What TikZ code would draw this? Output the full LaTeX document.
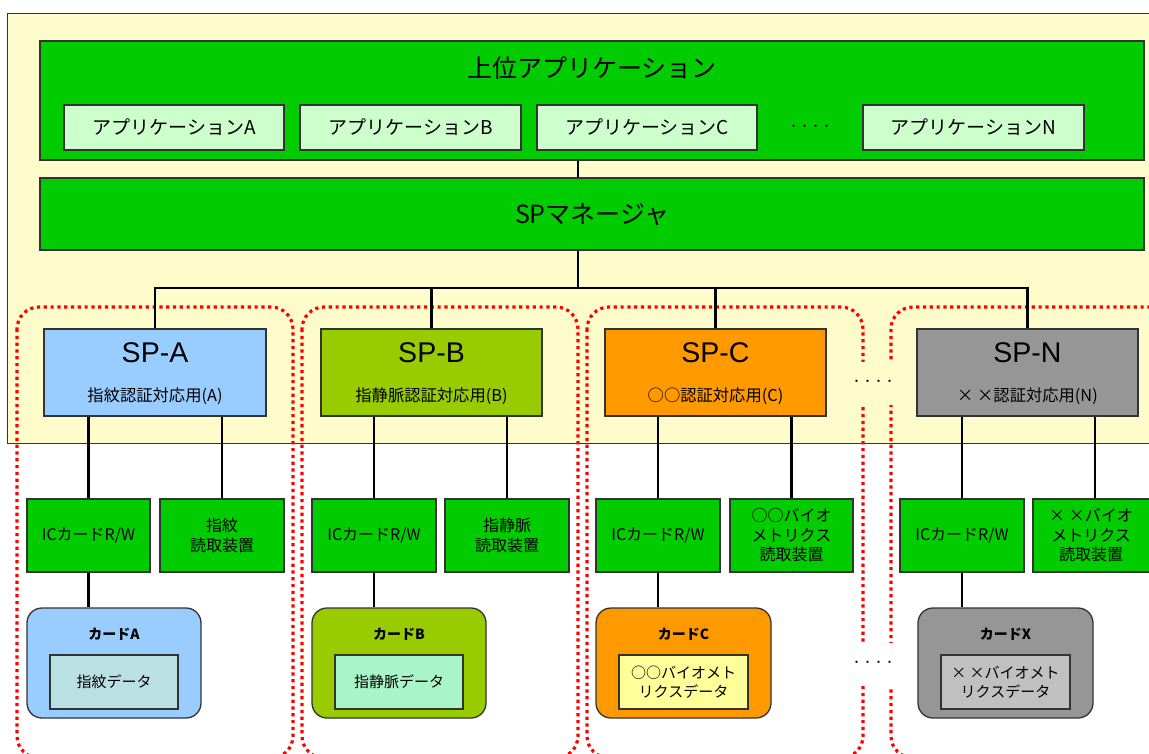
\documentclass[tikz,border=0pt]{standalone}
\usepackage{fontspec}
\setmainfont{Noto Sans CJK JP}
\newfontfamily\latinfont{Liberation Sans}

\definecolor{bgYellow}{RGB}{255,252,204}
\definecolor{boxGreen}{RGB}{0,204,0}
\definecolor{appGreen}{RGB}{204,255,204}
\definecolor{colA}{RGB}{153,204,255}
\definecolor{colB}{RGB}{153,204,0}
\definecolor{colC}{RGB}{255,153,0}
\definecolor{colN}{RGB}{150,150,150}
\definecolor{dataA}{RGB}{187,224,227}
\definecolor{dataB}{RGB}{170,245,200}
\definecolor{dataC}{RGB}{255,255,153}
\definecolor{dataN}{RGB}{192,192,192}
\definecolor{zoneRed}{RGB}{255,0,0}

% box given by its corners: style, name, x1, y1, x2, y2, text
\newcommand\rbox[7]{\node[#1,minimum width={(#5-#3)*1pt},minimum height={(#6-#4)*1pt}] (#2) at ({(#3+#5)/2},{(#4+#6)/2}) {#7};}

\tikzset{
  frame/.style={draw=black!80, line width=1.1pt, inner sep=0pt, align=center},
  greenbox/.style={frame, fill=boxGreen},
  appbox/.style={frame, fill=appGreen, font=\fontsize{19}{22}\selectfont},
  spbox/.style={frame},
  devbox/.style={frame, fill=boxGreen, font=\fontsize{16}{19.5}\selectfont},
  cardbox/.style={frame, line width=1.3pt, rounded corners=15pt},
  databox/.style={frame, line width=1.2pt, font=\fontsize{15}{19}\selectfont},
  conn/.style={draw=black, line width=2.4pt},
  zone/.style={draw=zoneRed, line width=3.2pt, dash pattern=on 3.2pt off 3.6pt, rounded corners=22pt},
  bigtitle/.style={font=\fontsize{25}{28}\selectfont, inner sep=0pt},
  sptitle/.style={font=\latinfont\fontsize{28.5}{31}\selectfont, inner sep=0pt},
  spsub/.style={font=\fontsize{16.3}{18}\selectfont, inner sep=0pt},
  cardtitle/.style={font=\bfseries\fontsize{14}{16}\selectfont, inner sep=0pt},
  ellipsis/.style={font=\fontsize{11}{12}\selectfont, inner sep=0pt, minimum width=48pt, minimum height=43pt},
}

\begin{document}
\begin{tikzpicture}[x=1pt,y=-1pt]
\useasboundingbox (0,0) rectangle (1149,753);

% platform area
\draw[fill=bgYellow, draw=black!80, line width=1pt] (1165,13) -- (7,13) -- (7,443) -- (1165,443);

% upper application layer
\rbox{greenbox}{upper}{40}{41}{1144}{160}{}
\node[bigtitle] (uptitle) at (592,68) {上位アプリケーション};
\rbox{appbox}{appA}{64}{105}{284}{150}{アプリケーションA}
\rbox{appbox}{appB}{300}{105}{521}{150}{アプリケーションB}
\rbox{appbox}{appC}{537}{105}{757}{150}{アプリケーションC}
\node[font=\fontsize{11}{12}\selectfont, inner sep=0pt] (appdots) at (810,128) {・・・・};
\rbox{appbox}{appN}{863}{105}{1084}{150}{アプリケーションN}

% SP manager
\rbox{greenbox}{mgr}{40}{178}{1144}{250}{}
\node[bigtitle] (mgrtitle) at (592,215) {SPマネージャ};

% grouping zones
\draw[zone] (17,307) rectangle (293,758);
\draw[zone] (302,307) rectangle (578,758);
\draw[zone] (587,307) rectangle (863,758);
\draw[zone] (891,307) rectangle (1190,758);

% service providers
\rbox{spbox,fill=colA}{spA}{44}{329}{266}{416}{}
\rbox{spbox,fill=colB}{spB}{321}{329}{542}{416}{}
\rbox{spbox,fill=colC}{spC}{605}{329}{826}{416}{}
\rbox{spbox,fill=colN}{spN}{917}{329}{1138}{416}{}
\node[sptitle] (spAt) at (155,353) {SP-A};
\node[spsub]   (spAs) at (155,396) {指紋認証対応用(A)};
\node[sptitle] (spBt) at (431.5,353) {SP-B};
\node[spsub]   (spBs) at (431.5,396) {指静脈認証対応用(B)};
\node[sptitle] (spCt) at (715.5,353) {SP-C};
\node[spsub]   (spCs) at (715.5,396) {○○認証対応用(C)};
\node[sptitle] (spNt) at (1027.5,353) {SP-N};
\node[spsub]   (spNs) at (1027.5,396) {× ×認証対応用(N)};
\node[ellipsis, fill=bgYellow] (spdots) at (873,383) {・・・・};

% bus from the manager to the service providers
\coordinate (bus) at (578,288);
\draw[conn] (upper.south -| bus) -- (mgr.north -| bus);
\draw[conn] (mgr.south -| bus) -- (bus);
\draw[conn] (spA.north) -- (spA.north |- bus) -- (spN.north |- bus) -- (spN.north);
\draw[conn] (spB.north) -- (spB.north |- bus);
\draw[conn] (spC.north) -- (spC.north |- bus);

% devices
\rbox{devbox}{rwA}{27}{499}{150}{572}{ICカードR/W}
\rbox{devbox}{rdA}{160}{499}{284}{572}{指紋\\読取装置}
\rbox{devbox}{rwB}{312}{499}{436}{572}{ICカードR/W}
\rbox{devbox}{rdB}{445}{499}{569}{572}{指静脈\\読取装置}
\rbox{devbox}{rwC}{596}{499}{720}{572}{ICカードR/W}
\rbox{devbox}{rdC}{730}{499}{853}{572}{○○バイオ\\メトリクス\\読取装置}
\rbox{devbox}{rwN}{900}{499}{1024}{572}{ICカードR/W}
\rbox{devbox}{rdN}{1033}{499}{1157}{572}{\hspace*{-8pt}× ×バイオ\\\hspace*{-8pt}メトリクス\\\hspace*{-8pt}読取装置}

\foreach \s in {A,B,C,N}{
  \draw[conn] (rw\s.north) -- (rw\s.north |- sp\s.south);
  \draw[conn] (rd\s.north) -- (rd\s.north |- sp\s.south);
}

% cards
\rbox{cardbox,fill=colA}{cardA}{27}{608}{201}{718}{}
\rbox{cardbox,fill=colB}{cardB}{312}{608}{486}{718}{}
\rbox{cardbox,fill=colC}{cardC}{596}{608}{771}{718}{}
\rbox{cardbox,fill=colN}{cardN}{918}{608}{1093}{718}{}
\node[cardtitle] (cardAt) at (114,634) {カードA};
\node[cardtitle] (cardBt) at (399,634) {カードB};
\node[cardtitle] (cardCt) at (683.5,634) {カードC};
\node[cardtitle] (cardNt) at (1005.5,634) {カードX};
\rbox{databox,fill=dataA}{datA}{50}{655}{178}{709}{指紋データ}
\rbox{databox,fill=dataB}{datB}{335}{655}{463}{709}{指静脈データ}
\rbox{databox,fill=dataC}{datC}{619}{655}{748}{709}{○○バイオメト\\リクスデータ}
\rbox{databox,fill=dataN}{datN}{941}{655}{1070}{709}{× ×バイオメト\\リクスデータ}
\node[ellipsis, fill=white] (carddots) at (873,664) {・・・・};

\draw[conn] (rwA.south) -- (rwA.south |- cardA.north);
\draw[conn] (rwB.south) -- (rwB.south |- cardB.north);
\draw[conn] (rwC.south) -- (rwC.south |- cardC.north);
\draw[conn] (rwN.south) -- (rwN.south |- cardN.north);
\end{tikzpicture}
\end{document}
